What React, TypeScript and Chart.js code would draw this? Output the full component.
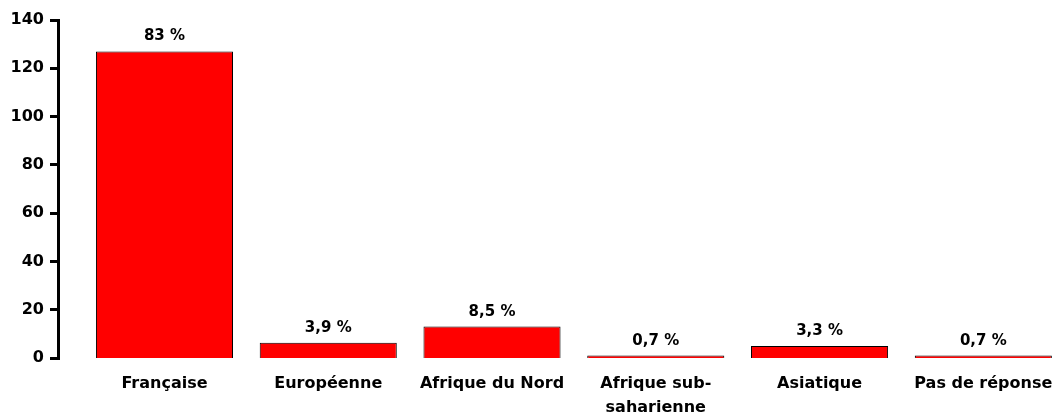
import React, { useEffect, useRef } from "react";
import { Chart, registerables } from "chart.js";

Chart.register(...registerables);

const categories: (string | string[])[] = [
  "Française",
  "Européenne",
  "Afrique du Nord",
  ["Afrique sub-", "saharienne"],
  "Asiatique",
  "Pas de réponse",
];
const counts = [127, 6.3, 13, 1, 5, 1];
const percentLabels = ["83 %", "3,9 %", "8,5 %", "0,7 %", "3,3 %", "0,7 %"];
const yTicks = [0, 20, 40, 60, 80, 100, 120, 140];

const FONT = "'DejaVu Sans', sans-serif";

const valueLabelPlugin = {
  id: "valueLabels",
  afterDatasetsDraw(chart: any) {
    const ctx = chart.ctx;
    const meta = chart.getDatasetMeta(0);
    ctx.save();
    ctx.font = `bold 15px ${FONT}`;
    ctx.fillStyle = "#000";
    ctx.textAlign = "center";
    ctx.textBaseline = "alphabetic";
    meta.data.forEach((bar: any, i: number) => {
      ctx.fillText(percentLabels[i], bar.x, bar.y - 11);
    });
    ctx.restore();
  },
};

export default function App() {
  const ref = useRef<HTMLCanvasElement | null>(null);
  useEffect(() => {
    if (!ref.current) return;
    const chart = new Chart(ref.current, {
      type: "bar",
      data: {
        labels: categories,
        datasets: [
          {
            data: counts,
            backgroundColor: "#FF0000",
            borderColor: "#000",
            borderWidth: 1,
            categoryPercentage: 1,
            barPercentage: 0.837,
          },
        ],
      },
      options: {
        responsive: false,
        animation: false,
        layout: { padding: { top: 20, right: 4.8, left: 0, bottom: 0 } },
        plugins: {
          legend: { display: false },
          tooltip: { enabled: false },
        },
        scales: {
          x: {
            grid: { display: false, drawTicks: false },
            border: { display: false },
            ticks: {
              color: "#000",
              font: { family: FONT, weight: "bold", size: 16, lineHeight: 1.55 },
              padding: 13,
              maxRotation: 0,
              autoSkip: false,
            },
            afterFit(scale: any) {
              scale.height = 58;
            },
          },
          pad: {
            type: "linear",
            position: "left",
            weight: 0,
            display: true,
            grid: { display: false, drawTicks: false },
            border: { display: false },
            ticks: { display: false },
            afterFit(scale: any) {
              scale.width = 24.6;
            },
          },
          y: {
            position: "left",
            weight: 1,
            min: 0,
            max: 140,
            afterBuildTicks(scale: any) {
              scale.ticks = yTicks.map((v) => ({ value: v }));
            },
            grid: {
              drawOnChartArea: false,
              drawTicks: true,
              tickLength: 8,
              color: "#000",
              lineWidth: 3,
            },
            border: { display: true, color: "#000", width: 3 },
            ticks: {
              color: "#000",
              font: { family: FONT, weight: "bold", size: 16 },
              padding: 6,
            },
            afterFit(scale: any) {
              scale.width = 58;
            },
          },
        },
      },
      plugins: [valueLabelPlugin],
    } as any);
    return () => chart.destroy();
  }, []);
  return (
    <div
      style={{
        position: "absolute",
        left: 0,
        top: 0,
        width: 1063,
        height: 416,
        overflow: "hidden",
        background: "#fff",
      }}
    >
      <canvas ref={ref} width={1070} height={416} style={{ display: "block" }} />
    </div>
  );
}
